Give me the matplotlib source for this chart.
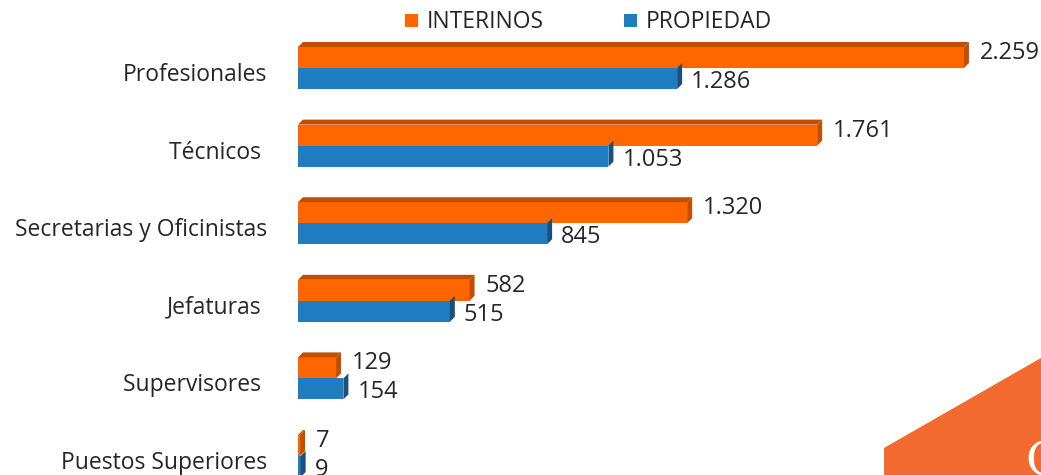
import numpy as np
import matplotlib
matplotlib.use("Agg")
from matplotlib import pyplot as plt
from matplotlib.patches import Polygon

# data
categories = ["Profesionales", "Técnicos ", "Secretarias y Oficinistas",
              "Jefaturas ", "Supervisores ", "Puestos Superiores"]
interinos = [2259, 1761, 1320, 582, 129, 7]
propiedad = [1286, 1053, 845, 515, 154, 9]
series_names = ["INTERINOS", "PROPIEDAD"]

plt.rcParams['font.family'] = ['Open Sans', 'DejaVu Sans']

ORANGE = "#FF6600"
ORANGE_DARK = "#C24E00"
BLUE = "#1F7EC1"
BLUE_DARK = "#1B4F7C"
TXT = "#262626"

W, H = 1041, 475
fig = plt.figure(figsize=(W / 100, H / 100), dpi=100)

# background decoration in the lower right corner
deco = fig.add_axes([0, 0, 1, 1])
deco.set_xlim(0, W)
deco.set_ylim(H, 0)
deco.axis("off")
deco.add_patch(Polygon([(884, 475), (884, 448), (1041, 358), (1041, 475)],
                       closed=True, color="#F26A2E", lw=0))
deco.text(1025, 485, "C", color="white", fontsize=34, family="DejaVu Serif",
          ha="left", va="bottom", clip_on=True)

# main axes: x in data units, y in pixels (inverted)
ax = fig.add_axes([298 / W, 0, (1035 - 298) / W, 1])
ax.set_xlim(0, 2500)
ax.set_ylim(H, 0)
ax.axis("off")
ax.patch.set_alpha(0)

px = 2500 / (1035 - 298)   # data units per pixel along x
depth = 5                  # 3d depth in pixels
bar_h = 21
y_mid = 68 + 77.6 * np.arange(len(categories))

bars_o = ax.barh(y_mid - bar_h / 2, interinos, height=bar_h, color=ORANGE, lw=0)
bars_b = ax.barh(y_mid + bar_h / 2, propiedad, height=bar_h, color=BLUE, lw=0)


def add_depth(bar, dark, top=True):
    x0 = bar.get_x()
    x1 = x0 + bar.get_width()
    yt = bar.get_y()
    yb = yt + bar.get_height()
    dx = depth * px
    if top:
        ax.add_patch(Polygon([(x0, yt), (x1, yt), (x1 + dx, yt - depth), (x0 + dx, yt - depth)],
                             closed=True, color=dark, lw=0))
    ax.add_patch(Polygon([(x1, yt), (x1 + dx, yt - depth), (x1 + dx, yb - depth), (x1, yb)],
                         closed=True, color=dark, lw=0))


for b in bars_b:
    add_depth(b, BLUE_DARK, top=False)
for b in bars_o:
    add_depth(b, ORANGE_DARK, top=True)


def fmt(v):
    return f"{v:,}".replace(",", ".")


for i, cat in enumerate(categories):
    ax.text(-31 * px, y_mid[i] + 7, cat, ha="right", va="center",
            fontsize=16.5, color=TXT, clip_on=False)
    ax.text(interinos[i] + 16 * px, y_mid[i] - bar_h / 2 - 4.5, fmt(interinos[i]),
            ha="left", va="center", fontsize=17, color=TXT, clip_on=False)
    ax.text(propiedad[i] + 14 * px, y_mid[i] + bar_h / 2 + 3.5, fmt(propiedad[i]),
            ha="left", va="center", fontsize=17, color=TXT, clip_on=False)

# legend
leg_y = 20
for x_sq, name, col in [(405, series_names[0], ORANGE), (624, series_names[1], BLUE)]:
    deco.add_patch(plt.Rectangle((x_sq, leg_y - 6.5), 13, 13, color=col, lw=0))
    deco.text(x_sq + 22, leg_y + 1.5, name, ha="left", va="center",
              fontsize=16.5, color=TXT)

fig.savefig("out.png", dpi=100)
